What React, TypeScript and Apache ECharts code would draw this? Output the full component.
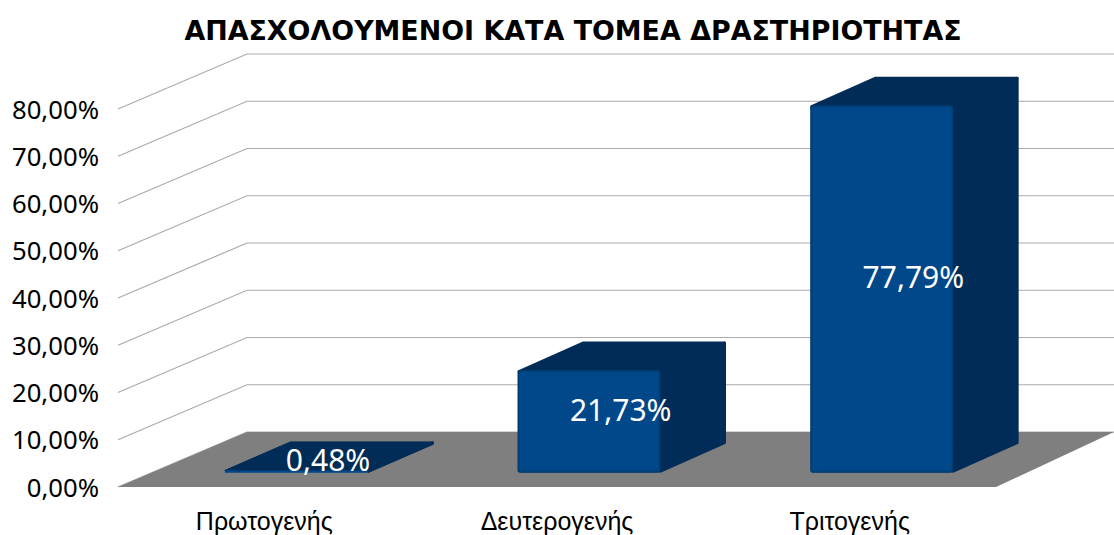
import React, { useEffect, useRef } from "react";
import * as echarts from "echarts";

const titleText = "ΑΠΑΣΧΟΛΟΥΜΕΝΟΙ ΚΑΤΑ ΤΟΜΕΑ ΔΡΑΣΤΗΡΙΟΤΗΤΑΣ";
const categories = ["Πρωτογενής", "Δευτερογενής", "Τριτογενής"];
const values = [0.48, 21.73, 77.79];
const gridTicks = [0, 10, 20, 30, 40, 50, 60, 70, 80];

const FONT = "Noto Sans";
const WALL_DX = 129;
const WALL_DX_RIGHT = 118;
const WALL_DY = -55;
const BAR_W = 143;
const BASE_DX = 32;
const BASE_DY = -14.3;
const DEPTH_DX = 65.5;
const DEPTH_DY = -28.5;
const ROUND = 1.5;
const BEVEL = 3;

const fmt = (v: number) => v.toFixed(2).replace(".", ",") + "%";

export default function App() {
  const ref = useRef<HTMLDivElement>(null);
  useEffect(() => {
    document.body.style.margin = "0";
    const chart = echarts.init(ref.current!, undefined, { renderer: "svg" });
    chart.setOption({
      animation: false,
      backgroundColor: "#ffffff",
      textStyle: { fontFamily: FONT },
      title: {
        text: titleText,
        left: 568,
        top: 12,
        textAlign: "center",
        textStyle: { fontFamily: "DejaVu Sans", fontWeight: "bold", fontSize: 26.9, color: "#000000" },
      },
      grid: { left: 118, right: 118, top: 109, bottom: 48 },
      xAxis: {
        type: "category",
        data: categories,
        axisLine: { show: false },
        axisTick: { show: false },
        axisLabel: { fontFamily: "Liberation Sans", fontSize: 25, color: "#000000", margin: 21.5 },
      },
      yAxis: {
        type: "value",
        min: 0,
        max: 80,
        interval: 10,
        axisLine: { show: false },
        axisTick: { show: false },
        splitLine: { show: false },
        axisLabel: { fontFamily: FONT, fontSize: 25.7, color: "#000000", margin: 19, formatter: fmt },
      },
      series: [
        {
          type: "custom",
          silent: true,
          z: 1,
          data: gridTicks.map((t) => [0, t]),
          renderItem: (params: any, api: any) => {
            const sys = params.coordSys;
            const y = api.coord([0, api.value(1)])[1];
            const style = { stroke: "#ababab", lineWidth: 1.2, fill: "none" };
            return {
              type: "group",
              children: [
                { type: "polyline", shape: { points: [[sys.x, y], [sys.x + WALL_DX, y + WALL_DY], [sys.x + sys.width + WALL_DX_RIGHT, y + WALL_DY]] }, style },
              ],
            };
          },
        },
        {
          type: "custom",
          silent: true,
          z: 2,
          data: [[0, 0]],
          renderItem: (params: any, api: any) => {
            const sys = params.coordSys;
            const y = api.coord([0, 0])[1];
            return {
              type: "polygon",
              shape: {
                points: [
                  [sys.x, y],
                  [sys.x + WALL_DX, y + WALL_DY],
                  [sys.x + sys.width + WALL_DX_RIGHT, y + WALL_DY],
                  [sys.x + sys.width, y],
                ],
              },
              style: { fill: "#7f7f7f" },
            };
          },
        },
        {
          type: "custom",
          silent: true,
          z: 3,
          data: values.map((v, i) => [i, v]),
          renderItem: (_: any, api: any) => {
            const v = api.value(1);
            const [cx, y0] = api.coord([api.value(0), 0]);
            const yv = api.coord([api.value(0), v])[1];
            const l = cx + BASE_DX - BAR_W / 2;
            const r = l + BAR_W;
            const bot = y0 + BASE_DY;
            const top = yv + BASE_DY;
            const h = bot - top;
            const tall = h > 10;
            const ins = tall ? ROUND : 0;
            const faceStyle = { fill: "#002c57", stroke: "#002c57", lineWidth: tall ? ROUND * 2 : 1, lineJoin: "round" };
            const children: any[] = [
              {
                type: "polygon",
                shape: {
                  points: [
                    [r, bot - ins],
                    [r + DEPTH_DX - ins, bot + DEPTH_DY - ins],
                    [r + DEPTH_DX - ins, top + DEPTH_DY + ins],
                    [r, top],
                  ],
                },
                style: faceStyle,
              },
              {
                type: "polygon",
                shape: {
                  points: [
                    [l + ins, top + ins],
                    [l + DEPTH_DX, top + DEPTH_DY + ins],
                    [r + DEPTH_DX - ins, top + DEPTH_DY + ins],
                    [r, top + ins],
                  ],
                },
                style: faceStyle,
              },
              {
                type: "rect",
                shape: { x: l, y: top, width: BAR_W, height: h, r: tall ? 3 : 0 },
                style: {
                  fill: tall
                    ? new echarts.graphic.LinearGradient(0, 0, 1, 0, [
                        { offset: 0, color: "#003a70" },
                        { offset: BEVEL / BAR_W, color: "#00488a" },
                        { offset: 1 - BEVEL / BAR_W, color: "#00488a" },
                        { offset: 1, color: "#003a70" },
                      ])
                    : "#00488a",
                },
              },
            ];
            if (tall) {
              children.push({
                type: "rect",
                shape: { x: l, y: top, width: BAR_W, height: h, r: 3 },
                style: {
                  fill: new echarts.graphic.LinearGradient(0, 0, 0, 1, [
                    { offset: 0, color: "rgba(0,44,87,0.6)" },
                    { offset: BEVEL / h, color: "rgba(0,44,87,0)" },
                    { offset: 1 - BEVEL / h, color: "rgba(0,44,87,0)" },
                    { offset: 1, color: "rgba(0,44,87,0.6)" },
                  ]),
                },
              });
            }
            children.push({
              type: "text",
              style: {
                text: fmt(v),
                x: cx + BASE_DX + DEPTH_DX / 2 - 1,
                y: (top + bot) / 2 - 12,
                align: "center",
                verticalAlign: "middle",
                fontFamily: FONT,
                fontSize: 30,
                fill: "#ffffff",
              },
            });
            return { type: "group", children };
          },
        },
      ],
    });
    return () => chart.dispose();
  }, []);
  return <div ref={ref} style={{ width: 1114, height: 535 }} />;
}
